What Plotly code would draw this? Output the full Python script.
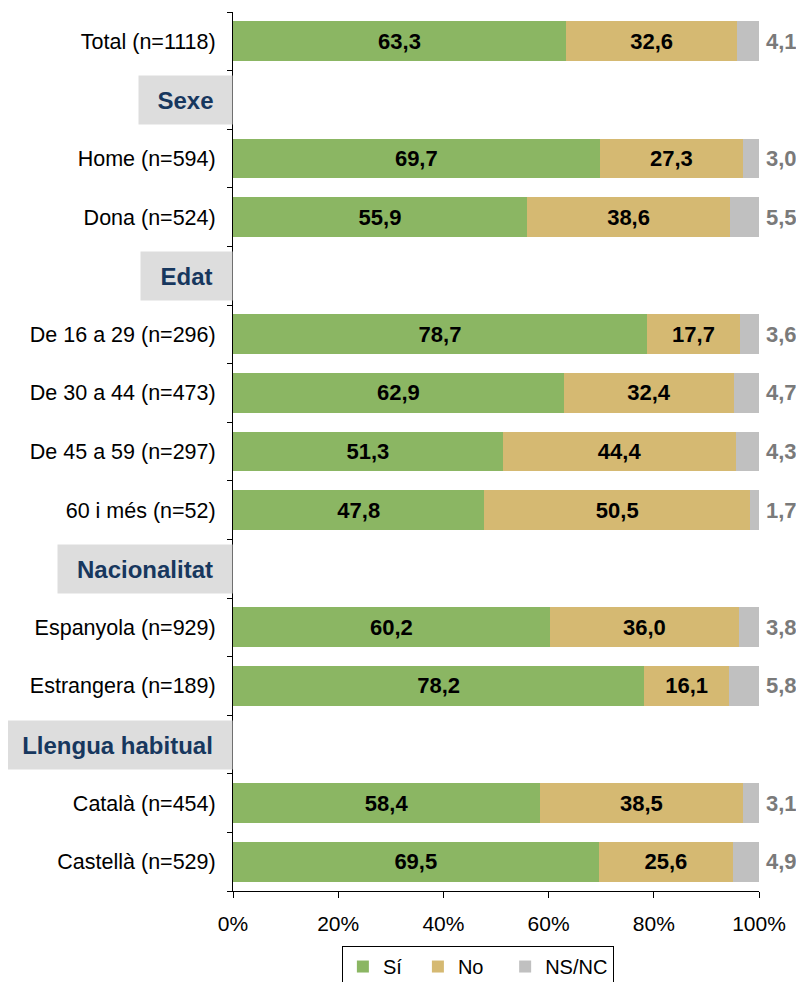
import plotly.graph_objects as go

# ---- data ----
categories = [
    "Total (n=1118)", "Sexe", "Home (n=594)", "Dona (n=524)", "Edat",
    "De 16 a 29 (n=296)", "De 30 a 44 (n=473)", "De 45 a 59 (n=297)", "60 i més (n=52)",
    "Nacionalitat", "Espanyola (n=929)", "Estrangera (n=189)",
    "Llengua habitual", "Català (n=454)", "Castellà (n=529)",
]
headers = ["Sexe", "Edat", "Nacionalitat", "Llengua habitual"]
si_values = [63.3, None, 69.7, 55.9, None, 78.7, 62.9, 51.3, 47.8, None, 60.2, 78.2, None, 58.4, 69.5]
no_values = [32.6, None, 27.3, 38.6, None, 17.7, 32.4, 44.4, 50.5, None, 36.0, 16.1, None, 38.5, 25.6]
nsnc_values = [4.1, None, 3.0, 5.5, None, 3.6, 4.7, 4.3, 1.7, None, 3.8, 5.8, None, 3.1, 4.9]
series_names = ["Sí", "No", "NS/NC"]
x_tickvals = [0, 20, 40, 60, 80, 100]
x_ticktext = ["0%", "20%", "40%", "60%", "80%", "100%"]

# ---- style ----
FONT = "Liberation Sans, Arial, sans-serif"
colors = ["#8BB663", "#D5B972", "#C0C0C0"]
header_widths = {"Sexe": 93, "Edat": 91, "Nacionalitat": 174, "Llengua habitual": 229}
legend_pad = {"Sí": "\u00a0\u00a0", "No": "\u00a0\u00a0\u00a0", "NS/NC": ""}

fig = go.Figure()
for name, vals, col in zip(series_names, [si_values, no_values, nsnc_values], colors):
    is_last = name == "NS/NC"
    fig.add_trace(go.Bar(
        y=categories, x=vals, name=name + legend_pad[name], orientation="h",
        marker=dict(color=col, line=dict(width=0)),
        width=0.68,
        texttemplate=(None if is_last else "%{x:.1f}"),
        textposition=("none" if is_last else "inside"),
        insidetextanchor="middle",
        textangle=0,
        constraintext="none",
        textfont=dict(family=FONT, size=22, color="black", weight="bold"),
        hoverinfo="skip",
    ))

# NS/NC value labels to the right of each bar
for cat, a, b, c in zip(categories, si_values, no_values, nsnc_values):
    if c is None:
        continue
    fig.add_annotation(
        x=min(a + b + c, 100), y=cat, xref="x", yref="y", xanchor="left", yanchor="middle",
        xshift=5, showarrow=False,
        text="<b>%s</b>" % ("%.1f" % c).replace(".", ","),
        font=dict(family=FONT, size=22, color="#7A7A7A"),
    )

ticktext = ["" if c in headers else c for c in categories]

fig.update_layout(
    barmode="stack",
    separators=",.",
    width=796, height=974,
    margin=dict(l=225, r=45, t=4, b=91, autoexpand=False),
    plot_bgcolor="white", paper_bgcolor="white",
    font=dict(family=FONT, size=21, color="black"),
    showlegend=True,
    legend=dict(
        orientation="h", x=0.207, xanchor="left", y=-0.0626, yanchor="top",
        bordercolor="black", borderwidth=1, font=dict(family=FONT, size=20, color="black"),
        traceorder="normal",
    ),
    xaxis=dict(
        range=[0, 100], tickvals=x_tickvals, ticktext=x_ticktext,
        showgrid=False, zeroline=False, showline=True, linecolor="black", linewidth=1,
        ticks="outside", ticklen=6, tickcolor="black",
        tickfont=dict(family=FONT, size=21, color="black"), ticklabelstandoff=8,
    ),
    yaxis=dict(
        categoryorder="array", categoryarray=categories, autorange="reversed",
        tickvals=categories, ticktext=ticktext, tickson="boundaries",
        showgrid=False, zeroline=False, showline=True, linecolor="black", linewidth=1,
        ticks="outside", ticklen=5, tickcolor="black",
        tickfont=dict(family=FONT, size=21.5, color="black"), ticklabelstandoff=12,
    ),
)

for h in headers:
    fig.add_annotation(
        x=0, xref="paper", xanchor="right", y=h, yref="y", yanchor="middle",
        text="<b>%s</b>" % h, showarrow=False,
        font=dict(family=FONT, size=24, color="#17375E"),
        bgcolor="#DDDDDD", width=header_widths[h], height=48, borderpad=0, align="center",
    )

fig.write_html("out.html")
